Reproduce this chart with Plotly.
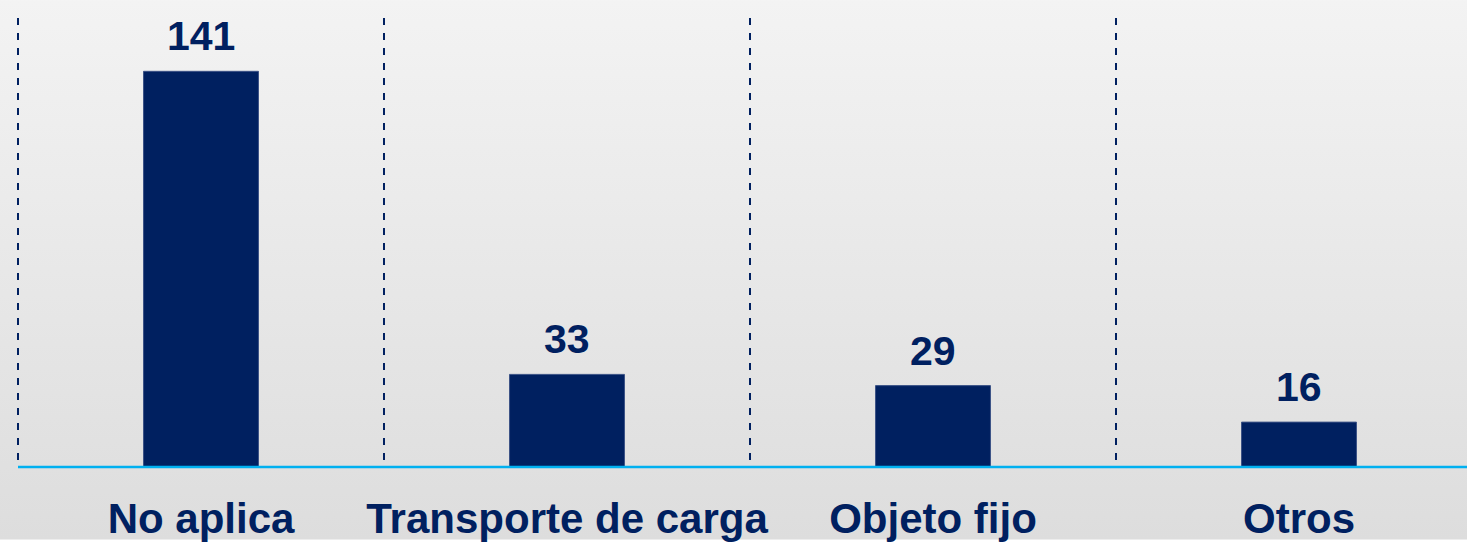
import base64
import plotly.graph_objects as go

categories = ["No aplica", "Transporte de carga", "Objeto fijo", "Otros"]
values = [141, 33, 29, 16]

W, H = 1467, 542
ML, MR, MT, MB = 15, 0, 18, 71
NAVY = "#002060"
BASE = "#00b0f0"
FONT = "Liberation Sans, Arial, sans-serif"

# reference: first slot boundary at x=18 px, slot width 366 px, right part cropped
plot_w = W - ML - MR
slot_px = 366.0
x0 = -0.5 - (18 - ML) / slot_px
x_range = [x0, x0 + plot_w / slot_px]
y_range = [-0.71, 160]

svg = (
    '<svg xmlns="http://www.w3.org/2000/svg" width="100" height="100" preserveAspectRatio="none">'
    '<defs><linearGradient id="g" x1="0" y1="0" x2="0" y2="1">'
    '<stop offset="0" stop-color="#f3f3f3"/><stop offset="1" stop-color="#dddddd"/>'
    '</linearGradient></defs><rect width="100" height="100" fill="url(#g)"/></svg>'
)
bg_src = "data:image/svg+xml;base64," + base64.b64encode(svg.encode()).decode()

xs = list(range(len(categories)))

fig = go.Figure()
fig.add_trace(go.Bar(
    x=xs, y=values, width=0.314,
    marker=dict(color=NAVY, line=dict(color="#3b5286", width=1)),
    hoverinfo="skip",
))

for xi, v in zip(xs, values):
    fig.add_annotation(
        x=xi, y=v, xref="x", yref="y", text=f"<b>{v}</b>",
        showarrow=False, yanchor="bottom", yshift=10,
        font=dict(family=FONT, size=41, color=NAVY),
    )

# dashed separators at category boundaries (drawn top-down so dashes start at top)
for xi in xs:
    fig.add_shape(
        type="line", xref="x", yref="y", x0=xi - 0.5, x1=xi - 0.5, y0=y_range[1], y1=0,
        line=dict(color=NAVY, width=2, dash="7px,8px"), layer="below",
    )

# baseline from first boundary to the right edge
fig.add_shape(
    type="line", xref="x", yref="y", x0=-0.5, x1=x_range[1], y0=0, y1=0,
    line=dict(color=BASE, width=2.5), layer="above",
)

ph = H - MT - MB
fig.add_layout_image(
    source=bg_src, xref="paper", yref="paper",
    x=-ML / plot_w, y=1 + MT / ph, sizex=W / plot_w, sizey=H / ph,
    xanchor="left", yanchor="top", sizing="stretch", layer="below",
)

fig.update_layout(
    width=W, height=H,
    margin=dict(l=ML, r=MR, t=MT, b=MB, pad=0),
    paper_bgcolor="rgba(0,0,0,0)", plot_bgcolor="rgba(0,0,0,0)",
    showlegend=False,
    xaxis=dict(
        range=x_range, tickmode="array", tickvals=xs,
        ticktext=[f"<b>{c}</b>" for c in categories],
        tickfont=dict(family=FONT, size=42, color=NAVY),
        showgrid=False, zeroline=False, showline=False,
        ticks="", ticklabelstandoff=21,
    ),
    yaxis=dict(range=y_range, visible=False, showgrid=False, zeroline=False),
)

fig.write_html(
    "out.html",
    config={"displayModeBar": False, "staticPlot": True},
    post_script="document.body.style.margin='0';document.body.style.overflow='hidden';",
)
